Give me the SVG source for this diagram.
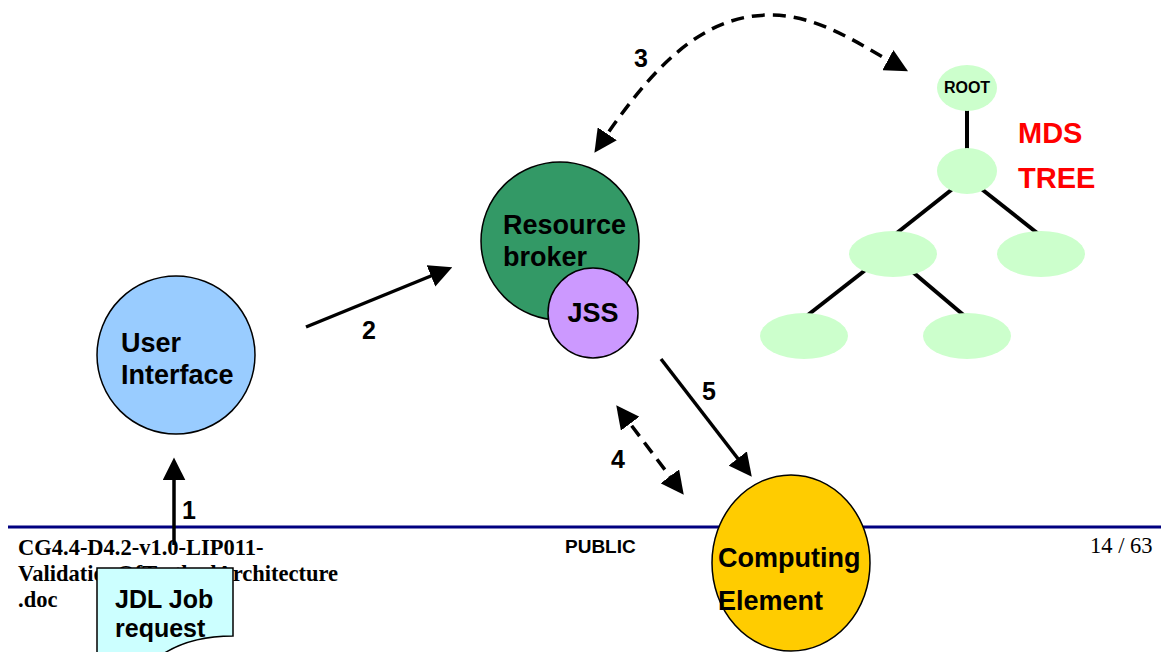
<svg xmlns="http://www.w3.org/2000/svg" width="1161" height="652" viewBox="0 0 1161 652">
<style>
.lbl{font-family:"Liberation Sans",Arial,sans-serif;font-weight:bold;fill:#000}
.big{font-size:27px}
.num{font-size:25px}
.ft{font-family:"Liberation Serif","Times New Roman",serif;font-size:22.5px;fill:#000}
.node{stroke:#000;stroke-width:1.5}
.tnode{fill:#CCFFCC}
.conn{fill:none;stroke:#000;stroke-width:3.5}
.dash{stroke-dasharray:13 8}
.tree{stroke:#000;stroke-width:4}
</style>
<defs>
<marker id="ah" viewBox="0 0 10 10" refX="8" refY="5" markerUnits="userSpaceOnUse" markerWidth="23" markerHeight="23" orient="auto-start-reverse">
<path d="M0,0 L10,5 L0,10 z" fill="#000"/>
</marker>
</defs>
<rect width="1161" height="652" fill="#fff"/>

<g id="footer">
<line x1="8" y1="527" x2="1161" y2="527" stroke="#000080" stroke-width="3"/>
<text class="ft" x="18" y="555" font-weight="bold">CG4.4-D4.2-v1.0-LIP011-</text>
<text class="ft" x="18" y="581" font-weight="bold">ValidationOfTestbedArchitecture</text>
<text class="ft" x="18" y="607" font-weight="bold">.doc</text>
<text class="lbl" x="565" y="553" font-size="19">PUBLIC</text>
<text class="ft" x="1090" y="553">14 / 63</text>
</g>

<g id="mds-tree">
<line class="tree" x1="967" y1="100" x2="967" y2="160"/>
<line class="tree" x1="955" y1="187" x2="893" y2="236"/>
<line class="tree" x1="979" y1="187" x2="1041" y2="236"/>
<line class="tree" x1="868" y1="268" x2="804" y2="318"/>
<line class="tree" x1="908" y1="268" x2="967" y2="318"/>
<g id="root"><ellipse class="tnode" cx="967" cy="88" rx="30" ry="23"/><text class="lbl" x="967" y="93" font-size="16" text-anchor="middle">ROOT</text></g>
<ellipse id="t1" class="tnode" cx="967" cy="171" rx="30" ry="23"/>
<ellipse id="t2" class="tnode" cx="893" cy="254" rx="44" ry="23"/>
<ellipse id="t3" class="tnode" cx="1041" cy="254" rx="44" ry="23"/>
<ellipse id="t4" class="tnode" cx="804" cy="336" rx="44" ry="23"/>
<ellipse id="t5" class="tnode" cx="967" cy="336" rx="44" ry="23"/>
<text class="lbl" x="1018" y="143" font-size="29" style="fill:#FF0000">MDS</text>
<text class="lbl" x="1018" y="188" font-size="29" style="fill:#FF0000">TREE</text>
</g>

<g id="user-interface">
<circle class="node" cx="176" cy="355" r="79" fill="#99CCFF"/>
<text class="lbl big" x="121" y="352">User</text>
<text class="lbl big" x="121" y="384">Interface</text>
</g>

<g id="resource-broker">
<circle class="node" cx="560" cy="241" r="79" fill="#339966"/>
<text class="lbl big" x="503" y="234">Resource</text>
<text class="lbl big" x="503" y="266">broker</text>
</g>

<g id="jss">
<circle class="node" cx="593" cy="313" r="45" fill="#CC99FF"/>
<text class="lbl big" x="593" y="322" text-anchor="middle">JSS</text>
</g>

<g id="computing-element">
<ellipse class="node" cx="791" cy="563" rx="79" ry="88" fill="#FFCC00"/>
<text class="lbl big" x="718" y="567">Computing</text>
<text class="lbl big" x="718" y="610">Element</text>
</g>

<g id="jdl-job-request">
<path class="node" d="M97,568 H233 V636 C205,636 180,642 160,656 L97,656 Z" fill="#CCFFFF"/>
<text class="lbl" x="115" y="608" font-size="25">JDL Job</text>
<text class="lbl" x="115" y="637" font-size="25">request</text>
</g>

<g id="connectors">
<line class="conn" x1="174" y1="545" x2="174" y2="462" marker-end="url(#ah)"/>
<text class="lbl num" x="182" y="519">1</text>
<line class="conn" x1="306" y1="327" x2="448" y2="269" marker-end="url(#ah)"/>
<text class="lbl num" x="362" y="339">2</text>
<path class="conn dash" d="M597,149 C650,70 700,15 770,15 C820,15 860,45 904,69" marker-start="url(#ah)" marker-end="url(#ah)"/>
<text class="lbl num" x="634" y="67">3</text>
<line class="conn dash" x1="619" y1="409" x2="681" y2="491" marker-start="url(#ah)" marker-end="url(#ah)"/>
<text class="lbl num" x="611" y="468">4</text>
<line class="conn" x1="661" y1="359" x2="749" y2="473" marker-end="url(#ah)"/>
<text class="lbl num" x="702" y="400">5</text>
</g>
</svg>
